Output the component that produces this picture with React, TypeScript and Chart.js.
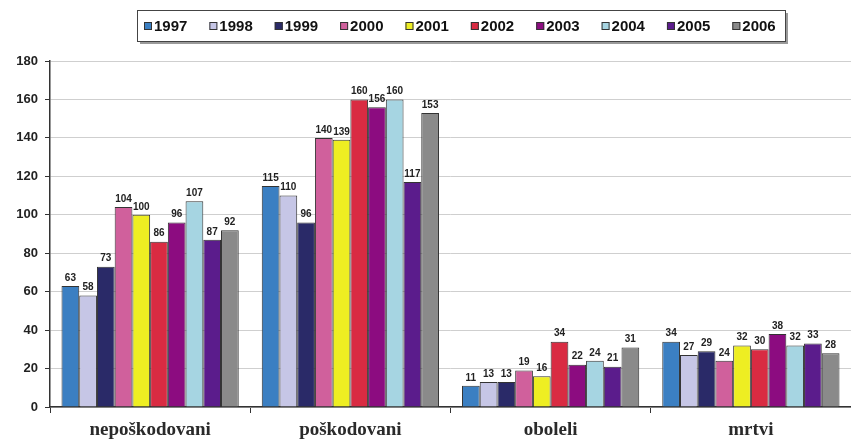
import { useEffect, useRef } from "react";
import { Chart, registerables } from "chart.js";

Chart.register(...registerables);

const categories = ["nepoškodovani", "poškodovani", "oboleli", "mrtvi"];
const years = ["1997", "1998", "1999", "2000", "2001", "2002", "2003", "2004", "2005", "2006"];

const v1997 = [63, 115, 11, 34];
const v1998 = [58, 110, 13, 27];
const v1999 = [73, 96, 13, 29];
const v2000 = [104, 140, 19, 24];
const v2001 = [100, 139, 16, 32];
const v2002 = [86, 160, 34, 30];
const v2003 = [96, 156, 22, 38];
const v2004 = [107, 160, 24, 32];
const v2005 = [87, 117, 21, 33];
const v2006 = [92, 153, 31, 28];

const seriesValues = [v1997, v1998, v1999, v2000, v2001, v2002, v2003, v2004, v2005, v2006];

const yTicks = [0, 20, 40, 60, 80, 100, 120, 140, 160, 180];

const colors = [
  "#3b7fc2",
  "#c6c6e6",
  "#2a2a68",
  "#d0609c",
  "#eeee22",
  "#d92b42",
  "#8c0c80",
  "#a6d5e2",
  "#5b1c8c",
  "#8a8a8a",
];

const boxLegend = {
  id: "boxLegend",
  afterDraw(chart: any) {
    const ctx = chart.ctx as CanvasRenderingContext2D;
    const left = 137, top = 10, right = 785, bottom = 41;
    ctx.save();
    ctx.fillStyle = "#9a9a9a";
    ctx.fillRect(left + 3, top + 3, right - left, bottom - top);
    ctx.fillStyle = "#ffffff";
    ctx.fillRect(left, top, right - left, bottom - top);
    ctx.strokeStyle = "#444";
    ctx.lineWidth = 1;
    ctx.strokeRect(left + 0.5, top + 0.5, right - left, bottom - top);
    ctx.font = "bold 15px 'Liberation Sans', Arial, sans-serif";
    ctx.textBaseline = "middle";
    ctx.textAlign = "left";
    const cy = (top + bottom) / 2 + 0.5;
    let x = 144;
    chart.data.datasets.forEach((ds: any) => {
      ctx.fillStyle = ds.backgroundColor;
      ctx.fillRect(x, cy - 4, 8, 8);
      ctx.strokeStyle = "#333";
      ctx.strokeRect(x + 0.5, cy - 3.5, 7, 7);
      ctx.fillStyle = "#111";
      ctx.fillText(ds.label, x + 10, cy + 0.5);
      x += 10 + ctx.measureText(ds.label).width + 22;
    });
    ctx.restore();
  },
};

const valueLabels = {
  id: "valueLabels",
  afterDatasetsDraw(chart: any) {
    const ctx = chart.ctx as CanvasRenderingContext2D;
    ctx.save();
    ctx.font = "bold 10px 'Liberation Sans', Arial, sans-serif";
    ctx.fillStyle = "#222";
    ctx.textAlign = "center";
    ctx.textBaseline = "bottom";
    chart.data.datasets.forEach((ds: any, i: number) => {
      const meta = chart.getDatasetMeta(i);
      meta.data.forEach((bar: any, j: number) => {
        ctx.fillText(String(ds.data[j]), bar.x, bar.y - 3);
      });
    });
    ctx.restore();
  },
};

export default function App() {
  const ref = useRef<HTMLCanvasElement | null>(null);

  useEffect(() => {
    document.body.style.margin = "0";
    if (!ref.current) return;
    const chart = new Chart(ref.current, {
      type: "bar",
      data: {
        labels: categories,
        datasets: years.map((y, i) => ({
          label: y,
          data: seriesValues[i],
          backgroundColor: colors[i],
          borderColor: "#333",
          borderWidth: 1,
          categoryPercentage: 0.885,
          barPercentage: 1,
        })),
      },
      options: {
        responsive: false,
        animation: false,
        layout: { padding: { top: 61, left: 0, right: 0, bottom: 0 } },
        plugins: {
          legend: { display: false },
          tooltip: { enabled: false },
        },
        scales: {
          x: {
            offset: true,
            afterFit(scale: any) {
              scale.height = 35;
            },
            grid: {
              offset: true,
              drawOnChartArea: false,
              tickLength: 6,
              color: "#333",
            },
            border: { color: "#333", width: 1.5 },
            ticks: {
              color: "#2a2a2a",
              padding: 8,
              font: { family: "'Liberation Serif', 'Times New Roman', serif", size: 19, weight: "bold", lineHeight: 1 },
            },
          },
          y: {
            min: 0,
            max: 180,
            afterBuildTicks(scale: any) {
              scale.ticks = yTicks.map((v) => ({ value: v }));
            },
            afterFit(scale: any) {
              scale.width = 50;
            },
            grid: {
              color: "#cfcfcf",
              tickColor: "#333",
              tickLength: 5,
            },
            border: { color: "#333", width: 1.5 },
            ticks: {
              color: "#222",
              padding: 7,
              font: { family: "'Liberation Sans', Arial, sans-serif", size: 13, weight: "bold" },
            },
          },
        },
      },
      plugins: [valueLabels, boxLegend],
    });
    return () => chart.destroy();
  }, []);

  return (
    <div style={{ width: 851, height: 442, background: "#fff" }}>
      <canvas ref={ref} width={851} height={442} />
    </div>
  );
}
